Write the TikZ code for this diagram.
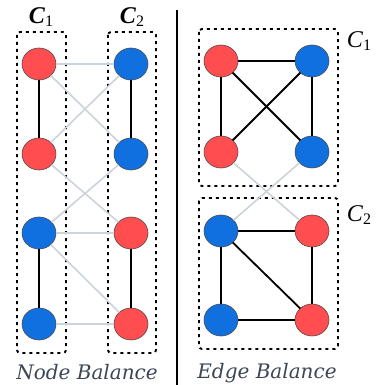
\documentclass[tikz,border=0pt]{standalone}
\usepackage{fontspec}
\setmainfont{DejaVu Serif}
\newfontfamily\lblfont{Liberation Serif}
\usetikzlibrary{backgrounds,shapes.geometric}
\definecolor{nred}{HTML}{FF4D50}
\definecolor{nblue}{HTML}{1170E0}
\definecolor{ngray}{HTML}{CDD3DB}
\definecolor{ntext}{HTML}{3B4656}
\begin{document}
\begin{tikzpicture}[x=1pt,y=-1pt,
  vtx/.style={ellipse,draw=black!70,line width=0.6pt,minimum width=34pt,minimum height=32pt,inner sep=0pt,outer sep=0pt},
  rv/.style={vtx,fill=nred},
  bv/.style={vtx,fill=nblue},
  hard/.style={draw=black,line width=1.8pt},
  soft/.style={draw=ngray,line width=1.6pt},
  cbox/.style={draw=black,line width=1.9pt,dash pattern=on 3pt off 4pt,rounded corners=3pt},
  captxt/.style={font=\fontsize{20}{20}\selectfont\itshape,text=ntext},
  clbl/.style={font=\lblfont\fontsize{24}{24}\selectfont}]
\useasboundingbox (0,0) rectangle (379,385);
% left panel
\node[rv] (L1) at (39,64) {};
\node[rv] (L2) at (39,154) {};
\node[bv] (L3) at (39,233) {};
\node[bv] (L4) at (39,324) {};
\node[bv] (R1) at (131,64) {};
\node[bv] (R2) at (131,154) {};
\node[rv] (R3) at (131,233) {};
\node[rv] (R4) at (131,324) {};
\begin{scope}[on background layer]
\draw[cbox] (17,32) rectangle (66,353);
\draw[cbox] (108,32) rectangle (156,353);
\end{scope}
\draw[soft] (L1) -- (R1);
\draw[soft] (L1) -- (R2);
\draw[soft] (L2) -- (R1);
\draw[soft] (L2) -- (R3);
\draw[soft] (L3) -- (R2);
\draw[soft] (L3) -- (R3);
\draw[soft] (L3) -- (R4);
\draw[soft] (L4) -- (R4);
\draw[hard] (L1) -- (L2);
\draw[hard] (L3) -- (L4);
\draw[hard] (R1) -- (R2);
\draw[hard] (R3) -- (R4);
\node[clbl] (CL1) at (41,17) {\textbf{\textit{C}}\raisebox{-0.35ex}{\fontsize{16}{16}\selectfont 1}};
\node[clbl] (CL2) at (132,17) {\textbf{\textit{C}}\raisebox{-0.35ex}{\fontsize{16}{16}\selectfont 2}};
\node[captxt] (NB) at (87,372) {Node Balance};
% separator
\coordinate (S1) at (177,10);
\coordinate (S2) at (177,385);
\draw[line width=1.5pt] (S1) -- (S2);
% right panel
\node[rv] (A1) at (221,61) {};
\node[bv] (A2) at (312,61) {};
\node[rv] (A3) at (221,152) {};
\node[bv] (A4) at (312,152) {};
\node[bv] (B1) at (221,231) {};
\node[rv] (B2) at (312,231) {};
\node[bv] (B3) at (221,320) {};
\node[rv] (B4) at (312,320) {};
\begin{scope}[on background layer]
\draw[cbox] (199,29) rectangle (338,186);
\draw[cbox] (199,198) rectangle (338,349);
\end{scope}
\draw[soft] (A3) -- (B2);
\draw[soft] (A4) -- (B1);
\draw[hard] (A1) -- (A2);
\draw[hard] (A1) -- (A3);
\draw[hard] (A1) -- (A4);
\draw[hard] (A2) -- (A3);
\draw[hard] (A2) -- (A4);
\draw[hard] (B1) -- (B2);
\draw[hard] (B1) -- (B3);
\draw[hard] (B1) -- (B4);
\draw[hard] (B2) -- (B4);
\draw[hard] (B3) -- (B4);
\node[clbl] (CR1) at (359,41) {\textit{C}\raisebox{-0.35ex}{\fontsize{16}{16}\selectfont 1}};
\node[clbl] (CR2) at (359,215) {\textit{C}\raisebox{-0.35ex}{\fontsize{16}{16}\selectfont 2}};
\node[captxt] (EB) at (267,373) {Edge Balance};
\end{tikzpicture}
\end{document}
